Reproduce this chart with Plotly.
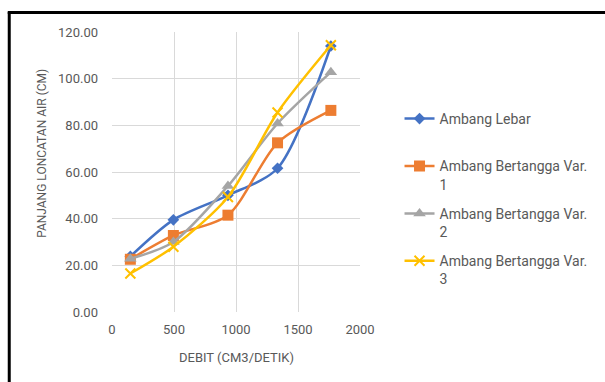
import plotly.graph_objects as go

# Discharge (cm3/s) and hydraulic jump length (cm) for each weir type
debit = [148, 495, 935, 1335, 1765]
ambang_lebar = [23.8, 39.5, 50.0, 61.6, 114.0]
bertangga_var1 = [22.6, 32.8, 41.5, 72.5, 86.4]
bertangga_var2 = [22.8, 30.0, 54.0, 80.8, 102.8]
bertangga_var3 = [16.5, 28.0, 49.3, 85.5, 114.3]

series_names = [
    "Ambang Lebar<br>&nbsp;",
    "Ambang Bertangga Var.<br>1",
    "Ambang Bertangga Var.<br>2",
    "Ambang Bertangga Var.<br>3",
]
y_ticks = [0, 20, 40, 60, 80, 100, 120]
x_ticks = [0, 500, 1000, 1500, 2000]

colors = ["#4472C4", "#ED7D31", "#A5A5A5", "#FFC000"]
symbols = ["diamond", "square", "triangle-up", "x-thin"]
sizes = [9, 11, 11, 10]

TEXT = "#595959"
FONT = "Roboto"

fig = go.Figure()
for i, (name, ys) in enumerate(zip(series_names,
                                   [ambang_lebar, bertangga_var1, bertangga_var2, bertangga_var3])):
    marker = dict(symbol=symbols[i], size=sizes[i], color=colors[i])
    if symbols[i] == "x-thin":
        marker["line"] = dict(color=colors[i], width=2)
    fig.add_trace(go.Scatter(
        x=debit, y=ys, name=name, mode="lines+markers",
        line=dict(color=colors[i], width=2.5, shape="spline", smoothing=0.8),
        marker=marker, legendgroup=str(i),
    ))

L, R, T, B = 112, 242, 32, 70
W, H = 605, 382
pw, ph = W - L - R, H - T - B


def px_x(p):
    return (p - L) / pw


def px_y(p):
    return (H - B - p) / ph


fig.update_layout(
    width=W, height=H,
    margin=dict(l=L, r=R, t=T, b=B),
    paper_bgcolor="white", plot_bgcolor="white",
    font=dict(family=FONT, color=TEXT, size=13),
    showlegend=True,
    legend=dict(
        x=px_x(403), y=px_y(103), xanchor="left", yanchor="top",
        font=dict(size=14, color=TEXT, family=FONT),
        valign="top", tracegroupgap=8, bgcolor="rgba(0,0,0,0)",
    ),
    xaxis=dict(
        range=[0, 2000], tickvals=x_ticks, ticktext=[str(v) for v in x_ticks],
        showgrid=True, gridcolor="#D9D9D9", gridwidth=1,
        zeroline=False, showline=False, ticks="",
        ticklabelstandoff=8, tickfont=dict(size=13, color=TEXT),
    ),
    yaxis=dict(
        range=[0, 120], tickvals=y_ticks, ticktext=[f"{v:.2f}" for v in y_ticks],
        showgrid=True, gridcolor="#D9D9D9", gridwidth=1,
        zeroline=False, showline=False, ticks="",
        ticklabelstandoff=13, tickfont=dict(size=13, color=TEXT),
    ),
    annotations=[
        dict(text="PANJANG LONCATAN AIR (CM)", xref="paper", yref="paper",
             x=px_x(41), y=px_y(153), textangle=-90, showarrow=False,
             font=dict(size=12, color=TEXT, family=FONT),
             xanchor="center", yanchor="middle"),
        dict(text="DEBIT (CM3/DETIK)", xref="paper", yref="paper",
             x=px_x(238), y=px_y(357), showarrow=False,
             font=dict(size=13, color=TEXT, family=FONT),
             xanchor="center", yanchor="middle"),
    ],
    shapes=[
        dict(type="line", xref="paper", yref="paper",
             x0=px_x(8), x1=px_x(8), y0=px_y(12), y1=px_y(390),
             line=dict(color="black", width=3)),
        dict(type="line", xref="paper", yref="paper",
             x0=px_x(6.5), x1=px_x(615), y0=px_y(12.5), y1=px_y(12.5),
             line=dict(color="black", width=3)),
    ],
)

fig.write_html("out.html")
